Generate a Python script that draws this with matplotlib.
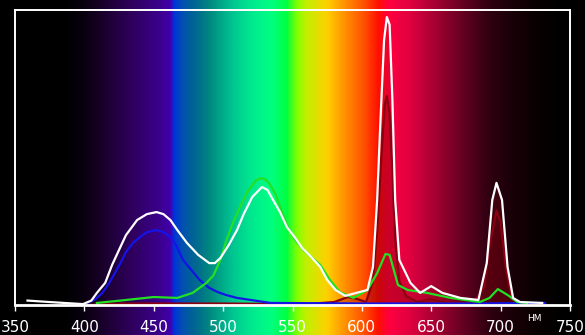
import numpy as np
import matplotlib
matplotlib.use("Agg")
from matplotlib import pyplot as plt
from matplotlib.colors import LinearSegmentedColormap, to_rgb

plt.rcParams['font.family'] = ['Liberation Sans Narrow', 'DejaVu Sans']

# Spectrum curves, wavelength (nm) and relative intensity (0..1)
white_wl = [359, 375, 399, 405, 409, 415, 420, 426, 430, 438, 445, 452, 457, 462,
            467, 474, 482, 490, 494, 498, 504, 510, 515, 521, 528, 532, 536, 541,
            546, 552, 557, 562, 570, 575, 581, 588, 596, 604, 608, 611, 613, 616,
            618, 620, 622, 624, 627, 635, 642, 650, 658, 671, 684, 690, 694, 697,
            701, 705, 709, 714, 730]
white_val = [0.015, 0.010, 0.003, 0.015, 0.041, 0.075, 0.136, 0.197, 0.237, 0.288,
             0.308, 0.315, 0.308, 0.288, 0.254, 0.210, 0.170, 0.142, 0.142, 0.159,
             0.203, 0.254, 0.310, 0.366, 0.400, 0.390, 0.356, 0.315, 0.264, 0.227,
             0.193, 0.170, 0.129, 0.085, 0.051, 0.031, 0.041, 0.051, 0.129, 0.356,
             0.583, 0.898, 0.976, 0.950, 0.695, 0.356, 0.153, 0.075, 0.041, 0.064,
             0.041, 0.024, 0.017, 0.142, 0.356, 0.414, 0.356, 0.129, 0.024, 0.010,
             0.007]

red_wl = [400, 430, 500, 560, 580, 590, 597, 603, 608, 611, 614, 616.5, 618, 620,
          622, 624, 627, 632, 640, 650, 660, 680, 688, 692, 697, 700, 704, 708,
          714, 730]
red_val = [0.0, 0.005, 0.005, 0.003, 0.010, 0.027, 0.020, 0.010, 0.080, 0.250,
           0.500, 0.680, 0.708, 0.650, 0.450, 0.220, 0.080, 0.030, 0.010, 0.020,
           0.008, 0.005, 0.060, 0.200, 0.320, 0.280, 0.120, 0.020, 0.003, 0.0]

green_wl = [409, 426, 450, 467, 478, 488, 493, 498, 502, 507, 512, 517, 520, 524,
            528, 531, 534, 538, 546, 552, 558, 564, 570, 577, 584, 594, 604, 611,
            617, 620, 626, 633, 647, 664, 685, 692, 698, 705, 712, 719]
green_val = [0.007, 0.015, 0.027, 0.024, 0.041, 0.075, 0.100, 0.153, 0.214, 0.278,
             0.330, 0.380, 0.400, 0.424, 0.430, 0.424, 0.407, 0.373, 0.271, 0.220,
             0.186, 0.160, 0.136, 0.085, 0.044, 0.024, 0.051, 0.108, 0.173, 0.170,
             0.068, 0.051, 0.041, 0.024, 0.010, 0.024, 0.054, 0.034, 0.010, 0.007]

blue_wl = [402, 408, 413, 418, 426, 430, 435, 440, 445, 452, 457, 462, 466, 471,
           476, 483, 490, 496, 502, 510, 520, 534, 600, 680, 732]
blue_val = [0.007, 0.020, 0.041, 0.075, 0.142, 0.180, 0.210, 0.230, 0.247, 0.254,
            0.247, 0.230, 0.203, 0.153, 0.125, 0.085, 0.058, 0.044, 0.034, 0.024,
            0.017, 0.007, 0.005, 0.005, 0.007]

ticks = [350, 400, 450, 500, 550, 600, 650, 700, 750]

# background spectrum colours
spec_stops = [(339, '#000000'), (385, '#000000'), (400, '#0a0010'), (415, '#1c0030'),
              (435, '#300060'), (455, '#3c0090'), (462, '#4000b0'), (464, '#0030e0'),
              (470, '#0050b0'), (480, '#006890'), (490, '#008880'), (505, '#00c090'),
              (520, '#00e890'), (535, '#00ff80'), (546, '#00ff40'), (553, '#80ff00'),
              (560, '#c0f000'), (575, '#ffd000'), (588, '#ff9000'), (602, '#ff5000'),
              (612, '#ff1000'), (620, '#ff0040'), (635, '#e00040'), (655, '#a00030'),
              (675, '#600020'), (692, '#300010'), (710, '#180008'), (728, '#080000'),
              (745, '#000000'), (761, '#000000')]

W, H = 585, 335
fig = plt.figure(figsize=(W / 100, H / 100), dpi=100)
fig.patch.set_facecolor('black')

# plot area in pixels
left, right, top, bottom = 15, 570, 10, 305
nm_per_px = 400 / (right - left)
val_per_px = 1 / (bottom - top)

bg = fig.add_axes([0, 0, 1, 1])
x0 = 350 - left * nm_per_px
x1 = 750 + (W - right) * nm_per_px
y0 = -(H - bottom) * val_per_px
y1 = 1 + top * val_per_px
lo, hi = spec_stops[0][0], spec_stops[-1][0]
cmap = LinearSegmentedColormap.from_list(
    'spec', [((w - lo) / (hi - lo), to_rgb(c)) for w, c in spec_stops])
grad = np.linspace(0, 1, 1200)[None, :]
bg.imshow(grad, cmap=cmap, aspect='auto', extent=(lo, hi, y0, y1), interpolation='bilinear')
bg.set_xlim(x0, x1)
bg.set_ylim(y0, y1)
bg.axis('off')

ax = fig.add_axes([left / W, (H - bottom) / H, (right - left) / W, (bottom - top) / H])
ax.patch.set_alpha(0)
ax.set_xlim(350, 750)
ax.set_ylim(0, 1)

wl_fill = np.array(white_wl)
mask = wl_fill >= 600
ax.fill_between(wl_fill[mask], 0, np.array(white_val)[mask], color='#a00010', alpha=0.2, lw=0)
ax.fill_between(red_wl, 0, red_val, color='#800010', alpha=0.3, lw=0)
ax.plot(red_wl, red_val, color='#8a0010', lw=1.6)
ax.plot(blue_wl, blue_val, color='#1414e6', lw=1.6)
ax.plot(green_wl, green_val, color='#22e022', lw=1.6)
ax.plot(white_wl, white_val, color='white', lw=1.6)

for s in ax.spines.values():
    s.set_color('white')
    s.set_linewidth(1.4)
ax.spines['bottom'].set_linewidth(2)
ax.set_xticks(ticks)
ax.set_yticks([])
ax.tick_params(axis='x', colors='white', direction='out', length=4, width=1,
               labelsize=11, pad=7)
ax.text(724, -0.045, 'НМ', color='white', fontsize=6.5, ha='center', va='center',
        family=['DejaVu Sans'])

fig.savefig('out.png', dpi=100, facecolor='black')
